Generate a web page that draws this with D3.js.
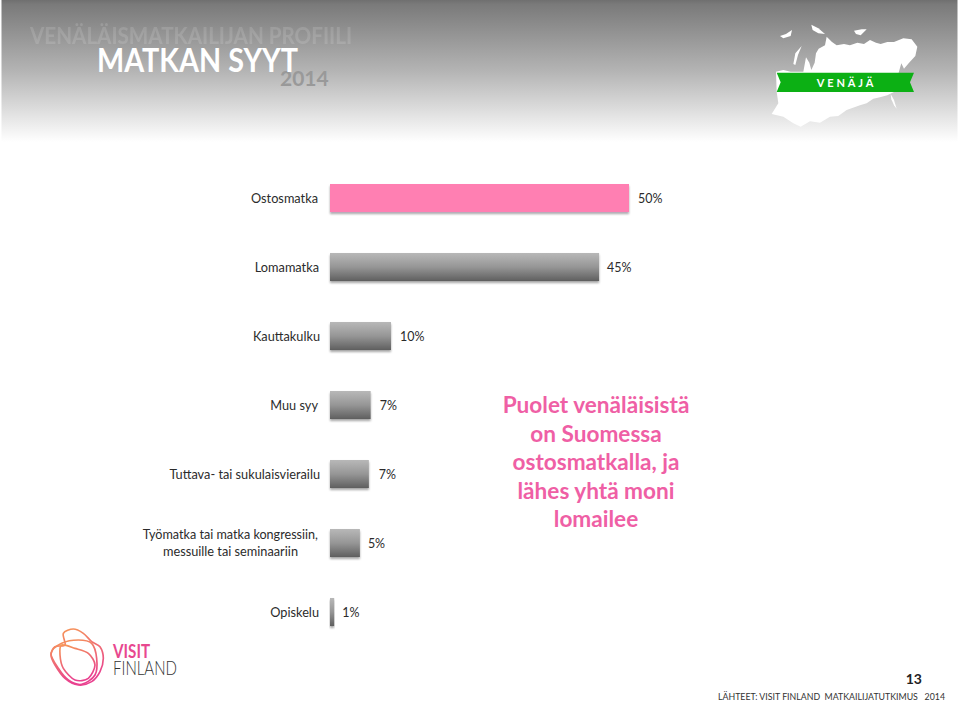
<!DOCTYPE html>
<html><head><meta charset="utf-8">
<script src="https://cdn.jsdelivr.net/npm/d3@7/dist/d3.min.js"></script>
<style>html,body{margin:0;padding:0;background:#fff}svg{display:block}text{font-family:Lato,"Open Sans",sans-serif}</style>
</head><body><svg id="c" width="960" height="702"></svg>
<script>
const categories = ["Ostosmatka","Lomamatka","Kauttakulku","Muu syy","Tuttava- tai sukulaisvierailu","Työmatka tai matka kongressiin,|messuille tai seminaariin","Opiskelu"];
const values = [50, 45, 10.2, 6.8, 6.5, 5, 0.7];
const valueLabels = ["50%","45%","10%","7%","7%","5%","1%"];
const calloutLines = ["Puolet venäläisistä","on Suomessa","ostosmatkalla, ja","lähes yhtä moni","lomailee"];
const svg = d3.select("#c");
const defs = svg.append("defs");
function grad(id, stops, x2, y2){
  const g = defs.append("linearGradient").attr("id",id).attr("x1",0).attr("y1",0).attr("x2",x2).attr("y2",y2);
  stops.forEach(s=>g.append("stop").attr("offset",s[0]).attr("stop-color",s[1]));
}
grad("hdr",[[0,"#6f6f6f"],[.03,"#7a7a7a"],[.5,"#b4b4b4"],[1,"#ffffff"]],0,1);
grad("bar",[[0,"#b8b8b8"],[.5,"#969696"],[1,"#5f5f5f"]],0,1);
grad("ring",[[0,"#f79a55"],[.5,"#ef6d72"],[1,"#e9418f"]],.3,1);
const f = defs.append("filter").attr("id","sh").attr("x","-10%").attr("y","-20%").attr("width","120%").attr("height","150%");
f.append("feDropShadow").attr("dx",0).attr("dy",2).attr("stdDeviation",1.3).attr("flood-color","#000").attr("flood-opacity",.35);
function squeeze(sel, k){ const n = sel.node(); sel.attr("textLength", n.getComputedTextLength()*k).attr("lengthAdjust","spacingAndGlyphs"); return sel; }

// header
svg.append("rect").attr("x",1.5).attr("width",956).attr("height",142).attr("fill","url(#hdr)");
svg.append("text").attr("x",30).attr("y",44).attr("font-size",22.5).attr("font-weight",700).attr("fill","#fff").attr("opacity",.13).attr("textLength",322).attr("lengthAdjust","spacingAndGlyphs").text("VENÄLÄISMATKAILIJAN PROFIILI");
svg.append("text").attr("x",280).attr("y",86).attr("font-size",21).attr("font-weight",700).attr("fill","#999").text("2014");
svg.append("text").attr("x",97).attr("y",72).attr("font-size",32.5).attr("font-weight",700).attr("fill","#fff").attr("textLength",201).attr("lengthAdjust","spacingAndGlyphs").text("MATKAN SYYT");

// map decoration, traced in a 3x frame
const map = svg.append("g").attr("transform","translate(770,20) scale(.3333)").attr("fill","#fff");
[
 "M18,155 L40,150 L62,155 L100,155 L108,112 L118,128 L124,150 L134,128 L138,100 L146,86 L165,76 L170,50 L186,66 L200,76 L222,72 L240,76 L262,68 L282,72 L300,60 L318,68 L332,72 L352,66 L372,66 L400,55 L425,58 L442,80 L436,108 L416,130 L402,146 L394,130 L386,158 L384,216 L372,216 L352,226 L330,232 L310,236 L290,250 L270,256 L230,270 L205,288 L180,290 L150,308 L120,304 L92,320 L70,310 L40,290 L5,282 L25,250 L20,215 Z",
 "M70,132 L76,100 L95,78 L84,105 L76,135 Z",
 "M124,14 L145,25 L165,42 L145,40 L128,30 Z",
 "M252,32 L275,28 L290,28 L272,46 L258,42 Z",
 "M30,48 L48,42 L66,30 L62,48 L40,55 Z",
 "M362,222 L372,240 L380,266 L372,256 L364,238 Z"
].forEach(d=>map.append("path").attr("d",d));
svg.append("path").attr("transform","translate(770,20) scale(.3333)").attr("fill","#0cb014")
  .attr("d","M20,158 L432,158 L420,187 L432,216 L20,216 L32,187 Z");
svg.append("text").attr("x",846.5).attr("y",87).attr("text-anchor","middle").attr("font-size",11).attr("font-weight",700).attr("fill","#fff").attr("letter-spacing",2.9).attr("font-family","Liberation Sans").text("VENÄJÄ");

// chart
const x = d3.scaleLinear().domain([0,50]).range([330,629]);
const y = d3.scaleBand().domain(categories).range([163.5,646.5]).paddingInner(.594).paddingOuter(.297);
const barFill = (d,i)=> i===0 ? "#ff7fb2" : "url(#bar)";
svg.append("g").selectAll("rect").data(categories).join("rect")
  .attr("x",x(0)).attr("y",d=>y(d)).attr("width",(d,i)=>x(values[i])-x(0)).attr("height",y.bandwidth())
  .attr("fill",barFill).attr("filter","url(#sh)");
const labelX = [318,319,320,318,320,318,319], valueGap=[9,8,9,9,10,8,8];
const gl = svg.append("g").attr("font-size",14).attr("fill","#2b2b2b");
categories.forEach((c,i)=>{
  const cy = y(c)+y.bandwidth()/2;
  const parts = c.split("|");
  if(parts.length===1){
    squeeze(gl.append("text").attr("x",labelX[i]).attr("y",cy+5).attr("text-anchor","end").text(c),.91);
  } else {
    squeeze(gl.append("text").attr("x",318).attr("y",cy-4).attr("text-anchor","end").text(parts[0]),.9);
    squeeze(gl.append("text").attr("x",298).attr("y",cy+13).attr("text-anchor","end").text(parts[1]),.91);
  }
  squeeze(gl.append("text").attr("x",x(values[i])+valueGap[i]).attr("y",cy+5).text(valueLabels[i]),.89);
});

// callout
svg.append("g").selectAll("text").data(calloutLines).join("text")
  .attr("x",596).attr("y",(d,i)=>413+i*28.6).attr("text-anchor","middle")
  .attr("font-size",22.6).attr("font-weight",700).attr("fill","#ef5fa5").text(d=>d);

// logo
const ringLine = d3.line().curve(d3.curveCardinalClosed.tension(0.1));
const lg = svg.append("g").attr("transform","translate(45,625) scale(.3333)").attr("fill","none").attr("stroke","url(#ring)").attr("stroke-width",5);
[
 [[60,60],[55,25],[85,12],[115,25],[140,50],[165,65],[175,100],[165,140],[140,170],[100,180],[60,160],[30,120],[18,90],[30,65]],
 [[18,85],[50,55],[100,45],[140,55],[155,100],[150,150],[110,178],[70,165],[40,130]],
 [[50,60],[90,70],[130,85],[150,120],[130,160],[90,165],[55,130],[45,90]]
].forEach(p=>lg.append("path").attr("d",ringLine(p)));
svg.append("text").attr("x",113).attr("y",658).attr("font-size",18.5).attr("font-weight",700).attr("fill","#e8488f").attr("textLength",37).attr("lengthAdjust","spacingAndGlyphs").text("VISIT");
svg.append("text").attr("x",113).attr("y",675).attr("font-size",19).attr("font-weight",300).attr("fill","#333").attr("textLength",64).attr("lengthAdjust","spacingAndGlyphs").text("FINLAND");

// footer
svg.append("text").attr("x",922).attr("y",684).attr("text-anchor","end").attr("font-size",14).attr("font-weight",700).attr("font-family","Liberation Sans").attr("fill","#222").text("13");
svg.append("text").attr("x",718).attr("y",700).attr("font-size",10).attr("fill","#333").attr("xml:space","preserve").attr("textLength",227).attr("lengthAdjust","spacingAndGlyphs").text("LÄHTEET: VISIT FINLAND  MATKAILIJATUTKIMUS   2014");
</script></body></html>
